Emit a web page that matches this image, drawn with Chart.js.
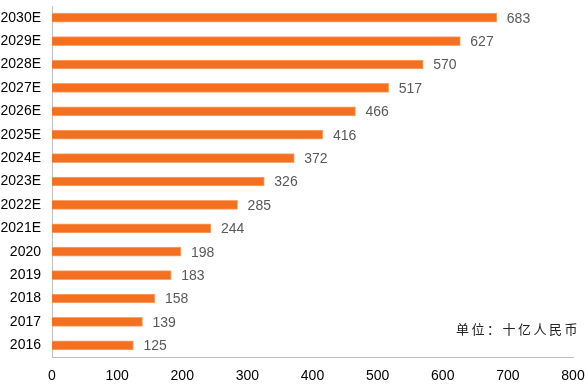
<!DOCTYPE html>
<html><head><meta charset="utf-8">
<script src="https://cdn.jsdelivr.net/npm/chart.js@4/dist/chart.umd.min.js"></script>
<style>
html,body{margin:0;padding:0;background:#fff;}
#wrap{position:relative;width:587px;height:386px;}
#unit{position:absolute;left:456px;top:319px;font-family:"Noto Sans CJK SC";font-size:13px;letter-spacing:2.5px;color:#222;white-space:nowrap;}
</style></head>
<body>
<div id="wrap"><canvas id="c" width="587" height="386"></canvas><div id="unit">单位：十亿人民币</div></div>
<script>
const categories = ["2030E","2029E","2028E","2027E","2026E","2025E","2024E","2023E","2022E","2021E","2020","2019","2018","2017","2016"];
const values = [683,627,570,517,466,416,372,326,285,244,198,183,158,139,125];
const xTicks = [0,100,200,300,400,500,600,700,800];

const labelPlugin = {
  id:'barLabels',
  afterDatasetsDraw(chart){
    const ctx = chart.ctx;
    const meta = chart.getDatasetMeta(0);
    ctx.save();
    ctx.font = '14px "Liberation Sans", Arial, sans-serif';
    ctx.fillStyle = '#595959';
    ctx.textAlign = 'left';
    ctx.textBaseline = 'middle';
    meta.data.forEach((bar,i)=>{
      ctx.fillText(String(values[i]), bar.x + 10, bar.y + 1);
    });
    ctx.restore();
  }
};

new Chart(document.getElementById('c'), {
  type:'bar',
  data:{labels:categories, datasets:[{data:values, backgroundColor:'#F37021', borderColor:'#F9A46C', borderWidth:1, borderSkipped:'start', barThickness:9}]},
  options:{
    indexAxis:'y', responsive:false, animation:false,
    layout:{padding:{top:6,right:14,left:0,bottom:0}},
    plugins:{legend:{display:false}, tooltip:{enabled:false}},
    scales:{
      x:{min:0,max:800,
        afterBuildTicks(s){ s.ticks = xTicks.map(v=>({value:v})); },
        afterFit(s){ s.height = 29; s.paddingLeft = 0; s.paddingRight = 0; },
        grid:{display:false, drawTicks:false},
        border:{display:true,color:'#BFBFBF',width:1},
        ticks:{padding:11,color:'#000',font:{size:14,family:'"Liberation Sans", Arial, sans-serif'}}
      },
      y:{
        afterFit(s){ s.width = 52; s.paddingTop = 0; s.paddingBottom = 0; },
        grid:{display:false, drawTicks:false},
        border:{display:true,color:'#BFBFBF',width:1},
        ticks:{padding:11,color:'#000',font:{size:14,family:'"Liberation Sans", Arial, sans-serif'}}
      }
    }
  },
  plugins:[labelPlugin]
});
</script>
</body></html>
